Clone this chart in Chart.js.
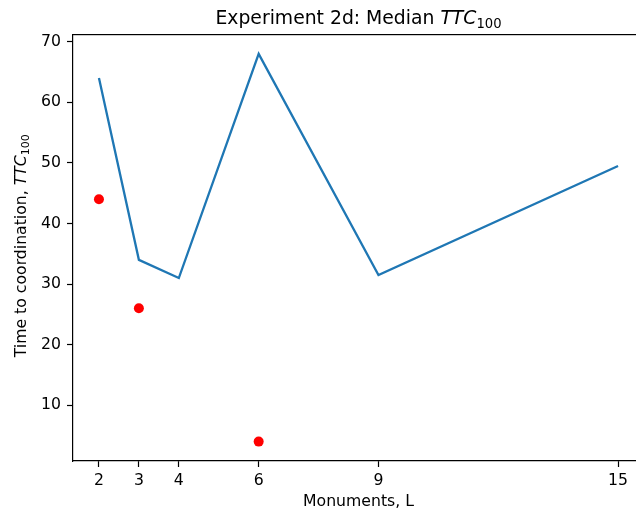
<!DOCTYPE html>
<html>
<head>
<meta charset="utf-8">
<script src="https://cdn.jsdelivr.net/npm/chart.js@4.4.0/dist/chart.umd.min.js"></script>
<style>
html, body { margin: 0; padding: 0; background: #fff; overflow: hidden; }
#wrap { width: 660px; height: 515px; }
</style>
</head>
<body>
<div id="wrap"><canvas id="chart" width="660" height="515"></canvas></div>
<script>
// 数据
var monuments = [2, 3, 4, 6, 9, 15];
var medianTTC = [64, 34, 31, 68, 31.5, 49.5];
var markerL = [2, 3, 6];
var markerTTC = [44, 26, 4];
var xTicks = [2, 3, 4, 6, 9, 15];
var yTicks = [10, 20, 30, 40, 50, 60, 70];

var FAMILY = '"DejaVu Sans", sans-serif';
var LABEL_SIZE = 15.7;
var TITLE_SIZE = 18.8;

function toPoints(xs, ys) {
    var pts = [];
    for (var i = 0; i < xs.length; i++) pts.push({ x: xs[i], y: ys[i] });
    return pts;
}

// 带斜体和下标的文字
function partFont(p, size) {
    var s = p.sub ? size * 0.7 : size;
    return (p.italic ? 'italic ' : '') + s + 'px ' + FAMILY;
}
function measureParts(ctx, parts, size) {
    var w = 0;
    parts.forEach(function (p) {
        ctx.font = partFont(p, size);
        w += ctx.measureText(p.text).width;
    });
    return w;
}
function drawParts(ctx, parts, size, x, y) {
    parts.forEach(function (p) {
        ctx.font = partFont(p, size);
        ctx.fillText(p.text, x, y + (p.sub ? size * 0.22 : 0));
        x += ctx.measureText(p.text).width;
    });
}

var titleParts = [
    { text: 'Experiment 2d: Median ' },
    { text: 'TTC', italic: true },
    { text: '100', sub: true }
];
var yLabelParts = [
    { text: 'Time to coordination, ' },
    { text: 'TTC', italic: true },
    { text: '100', sub: true }
];

var textPlugin = {
    id: 'mplText',
    afterDraw: function (chart) {
        var ctx = chart.ctx;
        var area = chart.chartArea;
        ctx.save();
        // 上边框
        ctx.fillStyle = '#000';
        ctx.fillRect(area.left - 0.6, Math.floor(area.top), area.right - area.left + 1.2, 1.2);

        ctx.textBaseline = 'alphabetic';
        ctx.textAlign = 'left';
        // 标题
        var cx = (area.left + area.right) / 2;
        var tw = measureParts(ctx, titleParts, TITLE_SIZE);
        drawParts(ctx, titleParts, TITLE_SIZE, cx - tw / 2, 23.5);

        // y轴标题
        var yw = measureParts(ctx, yLabelParts, LABEL_SIZE);
        ctx.translate(26, (area.top + area.bottom) / 2 - 2);
        ctx.rotate(-Math.PI / 2);
        drawParts(ctx, yLabelParts, LABEL_SIZE, -yw / 2, 0);
        ctx.restore();
    }
};

var tickFont = { family: FAMILY, size: LABEL_SIZE };

new Chart(document.getElementById('chart').getContext('2d'), {
    type: 'scatter',
    data: {
        datasets: [
            {
                label: 'median',
                data: toPoints(monuments, medianTTC),
                showLine: true,
                borderColor: '#1f77b4',
                backgroundColor: '#1f77b4',
                borderWidth: 2.3,
                pointRadius: 0,
                order: 2
            },
            {
                label: 'markers',
                data: toPoints(markerL, markerTTC),
                backgroundColor: '#ff0000',
                borderColor: '#ff0000',
                borderWidth: 0,
                pointRadius: 5,
                order: 1
            }
        ]
    },
    options: {
        responsive: false,
        animation: false,
        layout: { padding: { top: 34.5, left: 0, right: 16, bottom: 0 } },
        plugins: {
            legend: { display: false },
            tooltip: { enabled: false },
            title: { display: false }
        },
        scales: {
            x: {
                type: 'linear',
                min: 1.35,
                max: 15.65,
                afterBuildTicks: function (scale) {
                    scale.ticks = xTicks.map(function (v) { return { value: v }; });
                },
                afterFit: function (scale) { scale.height = 54; },
                grid: {
                    drawOnChartArea: false,
                    drawTicks: true,
                    tickLength: 6,
                    tickWidth: 1.2,
                    tickColor: '#000'
                },
                border: { display: true, color: '#000', width: 1.2 },
                ticks: { font: tickFont, color: '#000', padding: 5, maxRotation: 0 },
                title: {
                    display: true,
                    text: 'Monuments, L',
                    font: tickFont,
                    color: '#000',
                    padding: { top: 0, bottom: 3.6 }
                }
            },
            y: {
                type: 'linear',
                min: 0.8,
                max: 71.2,
                afterBuildTicks: function (scale) {
                    scale.ticks = yTicks.map(function (v) { return { value: v }; });
                },
                afterFit: function (scale) { scale.width = 73; },
                grid: {
                    drawOnChartArea: false,
                    drawTicks: true,
                    tickLength: 6,
                    tickWidth: 1.2,
                    tickColor: '#000'
                },
                border: { display: true, color: '#000', width: 1.2 },
                ticks: { font: tickFont, color: '#000', padding: 6 }
            }
        }
    },
    plugins: [textPlugin]
});
</script>
</body>
</html>
